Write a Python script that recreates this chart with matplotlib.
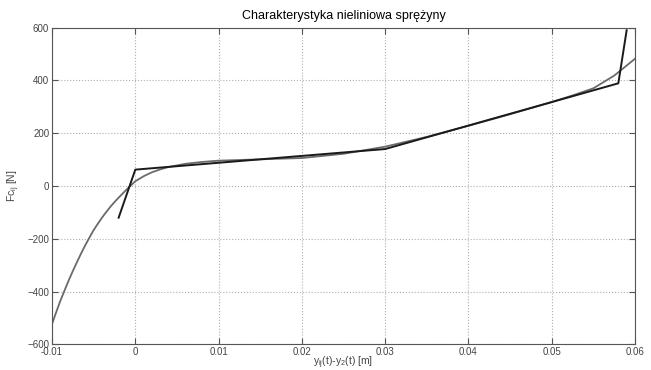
#!/usr/bin/env python3
"""Nonlinear spring characteristic: piecewise-linear model vs smooth fit."""

import matplotlib

matplotlib.use("Agg")
import matplotlib.pyplot as plt

# piecewise-linear characteristic (black)
pw_x = [-0.002, 0.0, 0.03, 0.058, 0.059]
pw_y = [-120, 62, 140, 389, 590]

# smooth approximation (grey)
fit_x = [-0.01, -0.0095, -0.009, -0.0085, -0.008, -0.0075, -0.007, -0.0065,
         -0.006, -0.0055, -0.005, -0.0045, -0.004, -0.0035, -0.003, -0.0025,
         -0.002, -0.0015, -0.001, -0.0005, 0.0, 0.001, 0.002, 0.003, 0.004,
         0.006, 0.008, 0.01, 0.015, 0.02, 0.025, 0.03, 0.035, 0.04, 0.045,
         0.05, 0.0525, 0.055, 0.0575, 0.06]
fit_y = [-523, -478, -435, -396, -358, -322, -288, -255,
         -224, -195, -167, -143, -120, -99, -79, -61,
         -44, -28, -12, 3, 18, 37, 52, 63, 72,
         84, 91, 96, 101, 106, 122, 149, 186, 228, 272,
         318, 343, 370, 418, 482]

xticks = [-0.01, 0, 0.01, 0.02, 0.03, 0.04, 0.05, 0.06]
xticklabels = ["-0.01", "0", "0.01", "0.02", "0.03", "0.04", "0.05", "0.06"]
yticks = [-600, -400, -200, 0, 200, 400, 600]

plt.rcParams["font.family"] = ["Liberation Sans", "DejaVu Sans"]
plt.rcParams["mathtext.fontset"] = "custom"
plt.rcParams["mathtext.rm"] = "Liberation Sans"
plt.rcParams["mathtext.it"] = "Liberation Sans"

fig = plt.figure(figsize=(6.51, 3.70), dpi=100)
ax = fig.add_axes([0.0799, 0.0692, 0.8955, 0.8562])

ax.plot(fit_x, fit_y, color="#6a6a6a", lw=1.3)
ax.plot(pw_x, pw_y, color="#1a1a1a", lw=1.4)

ax.set_xlim(-0.01, 0.06)
ax.set_ylim(-600, 600)
ax.set_xticks(xticks)
ax.set_xticklabels(xticklabels)
ax.set_yticks(yticks)
ax.grid(True, linestyle=":", color="#b0b0b0", lw=0.8)
ax.tick_params(direction="in", top=True, right=True, labelsize=7,
               labelcolor="#444444", color="#555555", length=4, pad=2)
for s in ax.spines.values():
    s.set_color("#555555")
    s.set_linewidth(0.8)

ax.set_title("Charakterystyka nieliniowa sprężyny", fontsize=9, pad=6)
ax.set_xlabel("y$_{ij}$(t)-y$_2$(t) [m]", fontsize=7.5, color="#444444",
              labelpad=-1.5)
ax.set_ylabel("Fc$_{ij}$ [N]", fontsize=7.5, color="#444444", labelpad=4)

fig.savefig("out.png", dpi=100)
plt.close(fig)
